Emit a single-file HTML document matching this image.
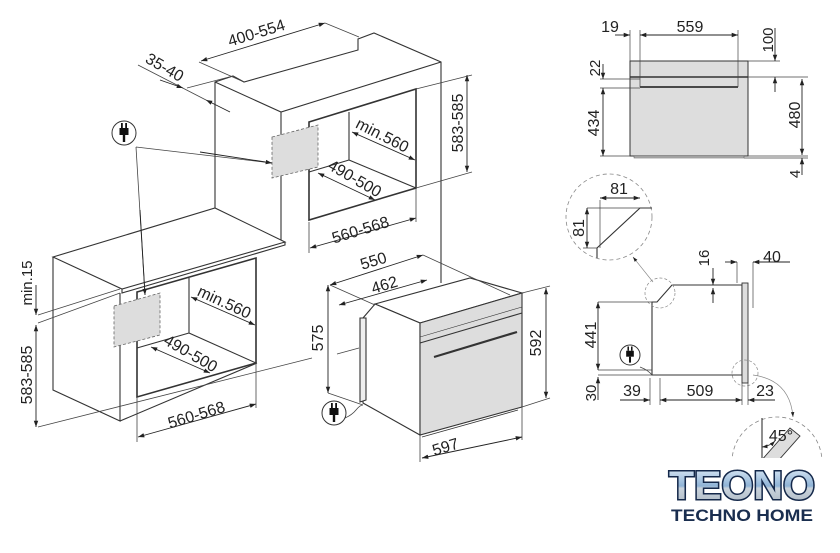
<!DOCTYPE html>
<html><head><meta charset="utf-8"><style>
html,body{margin:0;padding:0;background:#fff;}
svg{display:block;}
text{font-family:"Liberation Sans",sans-serif;fill:#222;}
</style></head><body>
<svg width="840" height="553" viewBox="0 0 840 553" xmlns="http://www.w3.org/2000/svg">
<defs>
<marker id="a" viewBox="0 0 10 10" refX="10" refY="5" markerWidth="7" markerHeight="7" orient="auto-start-reverse"><path d="M0,1.5L10,5L0,8.5z" fill="#222"/></marker>
<g id="plug"><rect x="-4.5" y="-5" width="9" height="7" fill="#111"/><rect x="-3" y="-10" width="1.8" height="5" fill="#111"/><rect x="1.2" y="-10" width="1.8" height="5" fill="#111"/><rect x="-1.2" y="2" width="2.4" height="7" fill="#111"/></g>
<linearGradient id="lg" x1="0" y1="0" x2="0" y2="1"><stop offset="0" stop-color="#e8f2fb"/><stop offset="0.5" stop-color="#8fb3d6"/><stop offset="0.55" stop-color="#c9d3dc"/><stop offset="1" stop-color="#a8b4c0"/></linearGradient>
</defs>
<g fill="none" stroke="#333" stroke-width="1.1">
<path d="M215,208 L215,82 L233,76 L244,82 L358,50 L358,39 L374,33 L441,62 L441,283"/>
<path d="M215,82 L281,112 L441,62 M281,112 L281,240"/>
<path d="M309,122 L416,89 L416,188 L309,220Z" stroke-width="1.6"/>
<path d="M349,112 L349,160 L416,188 M309,172 L349,160"/>
<path d="M53,257 L215,208 L285,242 L122,289 Z" fill="#fff"/>
<path d="M122,289 L122,293 L285,245 L285,242"/>
<path d="M53,257 L53,390 L120,421 L120,293 M120,421 L257,363"/>
<path d="M137,292 L256,258 L256,363 L137,397Z" stroke-width="1.6"/>
<path d="M189,278 L189,333 L256,363 M137,348 L189,333"/>
</g>
<path d="M272,137 L318,125 L318,167 L272,178Z" fill="#ddd" stroke="#666" stroke-dasharray="3,2" stroke-width="0.8"/>
<path d="M114,306 L160,293 L160,335 L114,347Z" fill="#ddd" stroke="#666" stroke-dasharray="3,2" stroke-width="0.8"/>
<g stroke="#333" stroke-width="1.1">
<path d="M375,304 L470,278 L522,293 L420,323Z" fill="#fff"/>
<path d="M375,304 L420,323 L420,435 L363,403 L363,318Z" fill="#fff"/>
<path d="M360,318 L366,318 L366,400 L360,402Z" fill="#eee"/>
<path d="M420,323 L522,293 L522,407 L420,435Z" fill="#ddd"/>
<path d="M420,343 L522,313" />
<path d="M420,337 L522,307" stroke-width="0.6"/>
<path d="M434,357 L517,332" stroke-width="2.2"/>
<path d="M422,437 L518,410" stroke-width="0.8"/>
</g>
<g stroke="#444" stroke-width="0.8" fill="none">
<path d="M199,62 L244,82 M325,23 L359,37 M138,65 L206,100 M187,88 L233,76"/>
<path d="M416,89 L472,75 M416,188 L472,172"/>
<path d="M309,222 L309,253 M416,188 L416,222"/>
<path d="M137,397 L137,442 M256,363 L256,408"/>
<path d="M38,315 L120,289 M38,323 L120,293 M38,427 L312,358 M337,354 L359,348"/>
<path d="M423,255 L510,295 M330,285 L375,305 M328,393 L363,405"/>
<path d="M522,293 L550,286 M522,407 L550,398 M420,435 L420,462 M522,407 L522,440"/>
<path d="M136,147 L272,163 M136,147 L145,295"/>
<path d="M345,418 Q352,415 356,410 Q360,405 363,405"/>
</g>
<g stroke="#222" stroke-width="0.9" fill="none" marker-start="url(#a)" marker-end="url(#a)">
<path d="M201,61 L325,23"/>
<path d="M467,75 L467,172"/>
<path d="M352,132 L415,160"/>
<path d="M318,173 L375,200"/>
<path d="M310,248 L416,218"/>
<path d="M191,297 L255,325"/>
<path d="M151,347 L210,373"/>
<path d="M138,437 L256,404"/>
<path d="M36,325 L36,427"/>
<path d="M330,285 L423,255"/>
<path d="M339,305 L427,280"/>
<path d="M328,285 L328,393"/>
<path d="M546,288 L546,398"/>
<path d="M422,458 L522,437"/>
</g>
<g stroke="#222" stroke-width="0.9" fill="none" marker-end="url(#a)">
<path d="M36,285 L36,315"/>
<path d="M160,80 L183,88"/>
<path d="M230,112 L206,100"/>
<path d="M200,152 L272,163"/>
<path d="M140,210 L145,295"/>
</g>
<g font-size="16">
<text transform="translate(258,38) rotate(-17)" text-anchor="middle">400-554</text>
<text transform="translate(162,72) rotate(30)" text-anchor="middle">35-40</text>
<text transform="translate(463,123) rotate(-90)" text-anchor="middle">583-585</text>
<text transform="translate(380,140) rotate(27)" text-anchor="middle">min.560</text>
<text transform="translate(352,183) rotate(30)" text-anchor="middle">490-500</text>
<text transform="translate(362,235) rotate(-17)" text-anchor="middle">560-568</text>
<text transform="translate(222,307) rotate(25)" text-anchor="middle">min.560</text>
<text transform="translate(188,358) rotate(30)" text-anchor="middle">490-500</text>
<text transform="translate(198,420) rotate(-17)" text-anchor="middle">560-568</text>
<text transform="translate(32,283) rotate(-90)" text-anchor="middle" font-size="15">min.15</text>
<text transform="translate(32,375) rotate(-90)" text-anchor="middle">583-585</text>
<text transform="translate(375,266) rotate(-17)" text-anchor="middle">550</text>
<text transform="translate(386,290) rotate(-17)" text-anchor="middle">462</text>
<text transform="translate(323,338) rotate(-90)" text-anchor="middle">575</text>
<text transform="translate(541,343) rotate(-90)" text-anchor="middle">592</text>
<text transform="translate(447,452) rotate(-17)" text-anchor="middle">597</text>
</g>
<g>
<circle cx="124" cy="133" r="12" fill="#fff" stroke="#333"/>
<use href="#plug" x="124" y="133"/>
<circle cx="334" cy="413" r="12" fill="#fff" stroke="#333"/>
<use href="#plug" x="334" y="413"/>
<circle cx="630" cy="355" r="10" fill="#fff" stroke="#333"/>
<use href="#plug" transform="translate(630,355) scale(0.85)"/>
</g>
<rect x="630" y="61" width="118" height="95" fill="#ddd" stroke="#333"/>
<path d="M630,77 L748,77" stroke="#333" stroke-width="1.6"/>
<path d="M640,87 L738,87" stroke="#333" stroke-width="1.8"/>
<rect x="634" y="156" width="110" height="2" fill="#bbb" stroke="#555" stroke-width="0.5"/>
<g stroke="#444" stroke-width="0.7" fill="none">
<path d="M630,30 L630,61 M640,30 L640,87 M738,30 L738,87"/>
<path d="M748,61 L780,61 M748,77 L808,77 M600,79 L640,79 M600,88 L640,88 M600,156 L630,156 M748,156 L808,156 M744,158 L808,158"/>
</g>
<g stroke="#222" stroke-width="0.9" fill="none">
<path d="M615,35 L630,35" marker-end="url(#a)"/>
<path d="M640,35 L738,35" marker-start="url(#a)" marker-end="url(#a)"/>
<path d="M775,28 L775,61" marker-end="url(#a)"/>
<path d="M775,92 L775,77" marker-end="url(#a)"/>
<path d="M603,64 L603,79" marker-end="url(#a)"/>
<path d="M603,88 L603,156" marker-start="url(#a)" marker-end="url(#a)"/>
<path d="M802,79 L802,155" marker-start="url(#a)" marker-end="url(#a)"/>
<path d="M802,175 L802,158" marker-end="url(#a)"/>
</g>
<g font-size="16">
<text x="610" y="32" text-anchor="middle">19</text>
<text x="690" y="32" text-anchor="middle">559</text>
<text transform="translate(773,40) rotate(-90)" text-anchor="middle" font-size="15">100</text>
<text transform="translate(600,68) rotate(-90)" text-anchor="middle" font-size="15">22</text>
<text transform="translate(599,123) rotate(-90)" text-anchor="middle">434</text>
<text transform="translate(800,115) rotate(-90)" text-anchor="middle">480</text>
<text transform="translate(800,174) rotate(-90)" text-anchor="middle" font-size="15">4</text>
</g>
<circle cx="609" cy="217" r="43" fill="none" stroke="#888" stroke-dasharray="4,3" stroke-width="0.8"/>
<path d="M652,208 L640,208 L597,248 L597,258" fill="none" stroke="#333" stroke-width="1.1"/>
<g stroke="#444" stroke-width="0.7"><path d="M600,200 L600,248 M587,208 L640,208 M583,248 L597,248"/></g>
<g stroke="#222" stroke-width="0.9" fill="none" marker-start="url(#a)" marker-end="url(#a)">
<path d="M600,198 L640,198"/><path d="M587,208 L587,248"/>
</g>
<text x="619" y="194" text-anchor="middle" font-size="16">81</text>
<text transform="translate(584,228) rotate(-90)" text-anchor="middle" font-size="16">81</text>
<path d="M653,282 L633,257" stroke="#888" stroke-width="0.7" marker-end="url(#a)"/>
<path d="M652,302 L657,302 L672,285 L742,285 L742,375 L652,375 Z" fill="#fff" stroke="#333" stroke-width="1.1"/>
<rect x="742" y="283" width="6" height="100" fill="#ddd" stroke="#333" stroke-width="0.9"/>
<circle cx="660" cy="293" r="15" fill="none" stroke="#888" stroke-dasharray="3,2" stroke-width="0.7"/>
<circle cx="745" cy="373" r="13" fill="none" stroke="#888" stroke-dasharray="3,2" stroke-width="0.7"/>
<path d="M753,375 Q790,380 793,417" fill="none" stroke="#888" stroke-width="0.7" marker-end="url(#a)"/>
<g stroke="#444" stroke-width="0.7" fill="none">
<path d="M598,302 L652,302 M598,370 L652,370 M598,375 L652,375"/>
<path d="M650,378 L650,405 M660,378 L660,405 M742,383 L742,405 M748,383 L748,405 M753,262 L753,308 M737,262 L737,283"/>
<path d="M640,367 Q648,370 652,375"/>
</g>
<g stroke="#222" stroke-width="0.9" fill="none">
<path d="M713,268 L713,285" marker-end="url(#a)"/>
<path d="M713,303 L713,288" marker-end="url(#a)"/>
<path d="M790,262 L753,262" marker-end="url(#a)"/>
<path d="M725,262 L737,262" marker-end="url(#a)"/>
<path d="M598,302 L598,370" marker-start="url(#a)" marker-end="url(#a)"/>
<path d="M598,400 L598,377" marker-end="url(#a)"/>
<path d="M620,400 L650,400" marker-end="url(#a)"/>
<path d="M660,400 L742,400" marker-start="url(#a)" marker-end="url(#a)"/>
<path d="M775,400 L748,400" marker-end="url(#a)"/>
</g>
<g font-size="16">
<text transform="translate(709,258) rotate(-90)" text-anchor="middle" font-size="15">16</text>
<text x="772" y="262" text-anchor="middle">40</text>
<text transform="translate(596,335) rotate(-90)" text-anchor="middle">441</text>
<text transform="translate(596,393) rotate(-90)" text-anchor="middle" font-size="15">30</text>
<text x="632" y="396" text-anchor="middle">39</text>
<text x="700" y="396" text-anchor="middle">509</text>
<text x="765" y="396" text-anchor="middle">23</text>
</g>
<clipPath id="c"><rect x="700" y="400" width="140" height="58"/></clipPath>
<g clip-path="url(#c)">
<circle cx="777" cy="462" r="45" fill="none" stroke="#888" stroke-dasharray="4,3" stroke-width="0.8"/>
<path d="M762,418 L762,470" stroke="#333" stroke-width="1.1"/>
<path d="M790,428 L800,436 L770,470 L760,462Z" fill="#ddd" stroke="#333" stroke-width="0.9"/>
<path d="M762,447 Q770,446 775,441" fill="none" stroke="#222" stroke-width="0.8" marker-start="url(#a)" marker-end="url(#a)"/>
</g>
<text x="781" y="441" text-anchor="middle" font-size="16">45°</text>
<text x="742" y="499" text-anchor="middle" font-size="40" font-weight="bold" style="fill:url(#lg);stroke:#14284a;stroke-width:3;paint-order:stroke" textLength="146" lengthAdjust="spacingAndGlyphs">TEONO</text>
<text x="742" y="521" text-anchor="middle" font-size="17" font-weight="bold" style="fill:#1a2e4f" textLength="142" lengthAdjust="spacingAndGlyphs">TECHNO HOME</text>
</svg>
</body></html>
